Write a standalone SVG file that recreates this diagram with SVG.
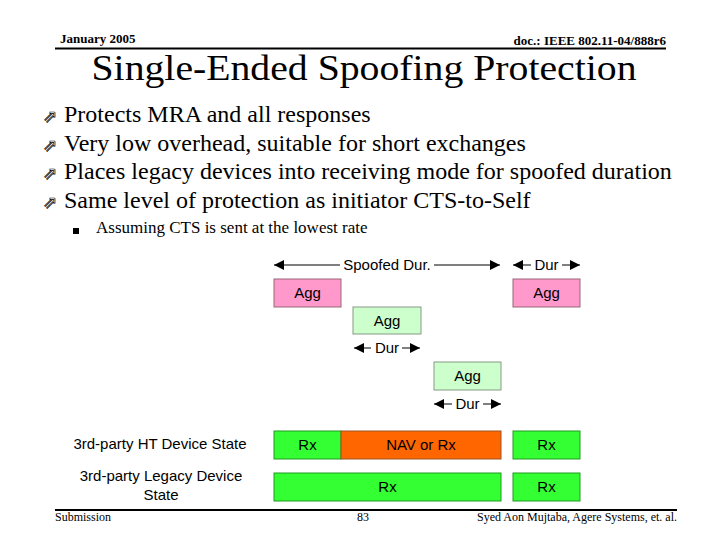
<svg xmlns="http://www.w3.org/2000/svg" width="720" height="540" viewBox="0 0 720 540">
<defs>
<marker id="ah" viewBox="0 0 10 10" refX="10" refY="5" markerWidth="10" markerHeight="10" markerUnits="userSpaceOnUse" orient="auto-start-reverse">
<path d="M0,0 L10,5 L0,10 Z" fill="#000"/>
</marker>
</defs>
<style>
.serif{font-family:"Liberation Serif","Times New Roman",serif;fill:#000}
.sans{font-family:"Liberation Sans",Arial,sans-serif;fill:#000;font-size:15px}
.pink{fill:#FF99CC;stroke:#996677;stroke-width:1}
.lg{fill:#CCFFCC;stroke:#889988;stroke-width:1}
.bg{fill:#33FF33;stroke:#229922;stroke-width:1}
.or{fill:#FF6600;stroke:#995522;stroke-width:1}
.ln{stroke:#000;stroke-width:1;fill:none}
</style>
<rect width="720" height="540" fill="#fff"/>
<g id="header">
<text class="serif" x="60" y="43" font-size="13" font-weight="bold">January 2005</text>
<text class="serif" x="666" y="45" font-size="13" font-weight="bold" text-anchor="end">doc.: IEEE 802.11-04/888r6</text>
<line x1="55" y1="48.5" x2="666" y2="48.5" stroke="#000" stroke-width="2"/>
<text class="serif" x="364" y="80" font-size="36" text-anchor="middle" textLength="545" lengthAdjust="spacingAndGlyphs">Single-Ended Spoofing Protection</text>
</g>
<g id="bullets">
<g font-family="DejaVu Sans,sans-serif" font-size="17" fill="#fff" stroke="#000" stroke-width="0.7">
<text x="43" y="122">⇗</text>
<text x="43" y="151">⇗</text>
<text x="43" y="179">⇗</text>
<text x="43" y="208">⇗</text>
</g>
<text class="serif" x="64" y="122" font-size="24">Protects MRA and all responses</text>
<text class="serif" x="64" y="151" font-size="24">Very low overhead, suitable for short exchanges</text>
<text class="serif" x="64" y="179" font-size="24">Places legacy devices into receiving mode for spoofed duration</text>
<text class="serif" x="64" y="208" font-size="24">Same level of protection as initiator CTS-to-Self</text>
<rect x="73" y="228" width="6" height="6" fill="#000"/>
<text class="serif" x="96" y="233" font-size="17">Assuming CTS is sent at the lowest rate</text>
</g>
<g id="connectors">
<line class="ln" x1="340" y1="265" x2="274" y2="265" marker-end="url(#ah)"/>
<line class="ln" x1="434" y1="265" x2="500" y2="265" marker-end="url(#ah)"/>
<line class="ln" x1="531" y1="265" x2="513" y2="265" marker-end="url(#ah)"/>
<line class="ln" x1="562" y1="265" x2="580" y2="265" marker-end="url(#ah)"/>
<line class="ln" x1="371" y1="348" x2="354" y2="348" marker-end="url(#ah)"/>
<line class="ln" x1="402" y1="348" x2="420" y2="348" marker-end="url(#ah)"/>
<line class="ln" x1="452" y1="404" x2="434" y2="404" marker-end="url(#ah)"/>
<line class="ln" x1="483" y1="404" x2="501" y2="404" marker-end="url(#ah)"/>
</g>
<g id="labels">
<text class="sans" x="387" y="270" text-anchor="middle">Spoofed Dur.</text>
<text class="sans" x="546.5" y="270" text-anchor="middle">Dur</text>
<text class="sans" x="387" y="353" text-anchor="middle">Dur</text>
<text class="sans" x="467.5" y="409" text-anchor="middle">Dur</text>
</g>
<g id="agg1"><rect class="pink" x="274" y="279" width="67" height="28"/><text class="sans" x="307.5" y="298" text-anchor="middle">Agg</text></g>
<g id="agg2"><rect class="lg" x="353" y="307" width="68" height="27"/><text class="sans" x="387" y="326" text-anchor="middle">Agg</text></g>
<g id="agg3"><rect class="pink" x="513" y="279" width="67" height="28"/><text class="sans" x="546.5" y="298" text-anchor="middle">Agg</text></g>
<g id="agg4"><rect class="lg" x="434" y="362" width="67" height="28"/><text class="sans" x="467.5" y="381" text-anchor="middle">Agg</text></g>
<g id="ht-label"><text class="sans" x="160" y="449" text-anchor="middle">3rd-party HT Device State</text></g>
<g id="legacy-label"><text class="sans" x="161" y="481" text-anchor="middle">3rd-party Legacy Device</text><text class="sans" x="161" y="500" text-anchor="middle">State</text></g>
<g id="ht-rx1"><rect class="bg" x="274" y="431" width="67" height="28"/><text class="sans" x="307.5" y="450" text-anchor="middle">Rx</text></g>
<g id="ht-nav"><rect class="or" x="341" y="431" width="160" height="28"/><text class="sans" x="421" y="450" text-anchor="middle">NAV or Rx</text></g>
<g id="ht-rx2"><rect class="bg" x="513" y="431" width="67" height="28"/><text class="sans" x="546.5" y="450" text-anchor="middle">Rx</text></g>
<g id="leg-rx1"><rect class="bg" x="274" y="473" width="227" height="28"/><text class="sans" x="387.5" y="492" text-anchor="middle">Rx</text></g>
<g id="leg-rx2"><rect class="bg" x="513" y="473" width="67" height="28"/><text class="sans" x="546.5" y="492" text-anchor="middle">Rx</text></g>
<g id="footer">
<line x1="55" y1="510" x2="677" y2="510" stroke="#000" stroke-width="2"/>
<text class="serif" x="55" y="521" font-size="12">Submission</text>
<text class="serif" x="363" y="521" font-size="12" text-anchor="middle">83</text>
<text class="serif" x="677" y="521" font-size="12" text-anchor="end">Syed Aon Mujtaba, Agere Systems, et. al.</text>
</g>
</svg>
